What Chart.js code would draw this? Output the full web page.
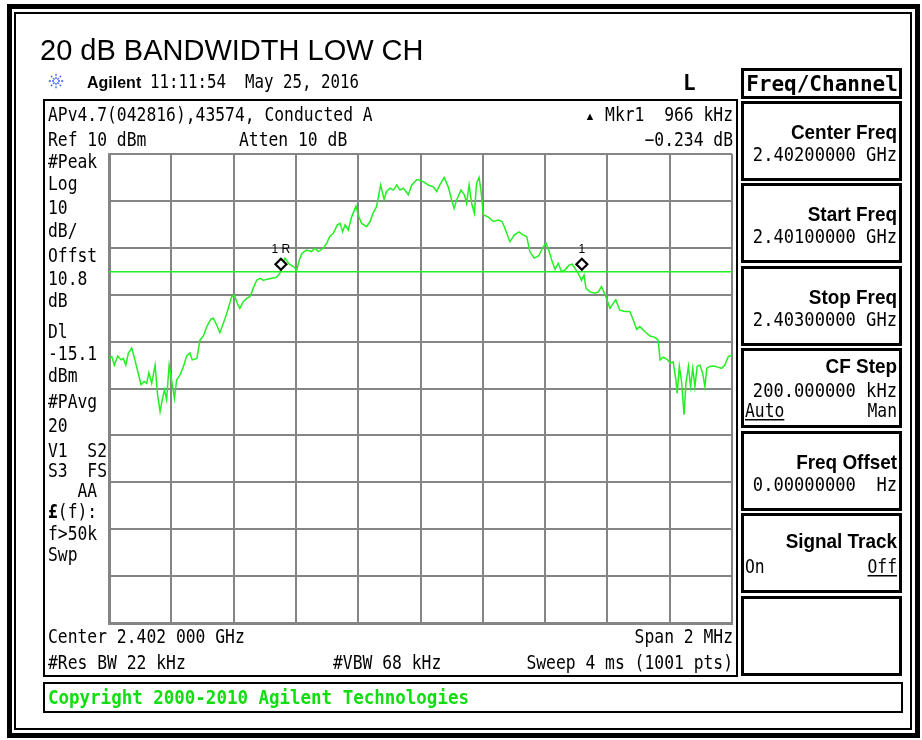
<!DOCTYPE html>
<html>
<head>
<meta charset="utf-8">
<script src="https://cdn.jsdelivr.net/npm/chart.js@4"></script>
<style>
  html, body { margin: 0; padding: 0; background: #fff; }
  #wrap { width: 922px; height: 740px; }
</style>
</head>
<body>
<div id="wrap"><canvas id="sa" width="922" height="740"></canvas></div>
<script>
// ── trace data: offset from start freq 2.401 GHz (kHz) / level (dBm) ──
const freqOffsetKHz = [0,9,17,28,39,46,54,62,73,83,94,103,113,121,128,137,148,156,164,171,
  178,185,193,201,210,217,228,239,249,260,267,282,292,303,314,327,335,346,356,367,
  378,394,402,413,420,431,442,453,463,474,485,495,522,538,549,554,565,579,592,603,
  611,619,634,650,661,672,688,699,709,720,733,742,750,758,768,779,793,800,811,827,
  838,848,859,865,872,883,891,902,913,924,934,945,961,972,988,993,1009,1025,1041,1052,
  1062,1076,1089,1100,1108,1116,1130,1141,1148,1156,1164,1173,1180,1188,1194,1202,1217,1234,1250,1262,
  1273,1287,1301,1316,1330,1341,1351,1365,1380,1391,1403,1413,1423,1432,1442,1453,1464,1477,1487,1506,
  1517,1525,1531,1544,1560,1571,1581,1595,1608,1619,1627,1640,1656,1672,1683,1694,1704,1721,1737,1753,
  1763,1769,1779,1792,1801,1811,1820,1824,1831,1838,1846,1852,1860,1867,1874,1881,1888,1897,1906,1913,
  1919,1929,1942,1956,1967,1977,1988,2000];
const levelDbm = [-33.6,-33.2,-35.0,-33.1,-33.9,-33.6,-35.0,-32.5,-31.4,-33.9,
  -36.8,-39.2,-38.5,-38.9,-36.6,-38.9,-35.0,-41.4,-44.9,-42.4,
  -40.3,-42.4,-35.0,-38.2,-42.1,-38.2,-37.1,-35.3,-33.1,-32.4,
  -33.9,-33.6,-29.7,-28.8,-26.8,-25.2,-25.0,-26.5,-28.1,-26.1,
  -24.0,-20.4,-20.1,-22.0,-22.9,-21.5,-20.8,-20.4,-18.6,-16.9,
  -16.5,-16.9,-16.5,-16.3,-15.4,-13.7,-12.2,-13.5,-14.0,-14.7,
  -12.6,-11.2,-10.5,-10.8,-10.1,-10.8,-10.1,-9.0,-7.6,-6.9,
  -5.1,-4.8,-6.6,-5.1,-6.2,-3.4,-1.1,-3.0,-4.8,-5.5,
  -4.4,-2.6,-1.2,0.9,3.4,0.3,2.0,2.7,2.3,3.4,
  2.3,2.7,1.3,3.4,4.5,4.5,4.1,3.4,3.0,2.0,
  3.4,5.0,3.0,0.2,-1.6,0.2,2.3,1.3,-0.5,3.4,
  -0.5,-2.6,3.8,5.0,2.3,-3.0,-3.4,-4.4,-4.1,-4.4,
  -6.2,-8.7,-7.3,-6.6,-7.3,-7.6,-10.8,-12.2,-11.7,-10.1,
  -9.0,-10.8,-13.0,-14.6,-13.3,-15.1,-14.7,-13.7,-13.5,-15.4,
  -16.9,-15.8,-18.6,-19.4,-19.7,-19.4,-18.3,-20.4,-22.9,-21.8,
  -21.1,-23.3,-23.6,-23.6,-25.4,-27.4,-26.8,-27.9,-28.8,-29.1,
  -29.7,-33.9,-33.3,-33.8,-34.6,-34.3,-38.2,-41.0,-35.3,-38.5,
  -45.6,-38.9,-35.3,-39.6,-35.7,-39.6,-35.3,-35.0,-36.8,-39.6,
  -35.7,-35.3,-35.2,-35.5,-35.7,-35.0,-33.2,-32.9];

const spanKHz = [0, 2000];
const refLevel = 10, dbPerDiv = 10, divisions = 10;
const displayLineDbm = -15.1;

const markerKHz = [552, 1518];
const markerDbm = [-13.5, -13.5];
const markerLabels = ['1 R', '1'];

const leftLabels = [
  ['#Peak', 168], ['Log', 190], ['10', 214], ['dB/', 237], ['Offst', 262], ['10.8', 285],
  ['dB', 307], ['Dl', 338], ['-15.1', 360], ['dBm', 382], ['#PAvg', 408], ['20', 432],
  ['V1  S2', 457], ['S3  FS', 477], ['   AA', 497], ['f>50k', 540], ['Swp', 561]
];

const softkeys = [
  { top: 102, title: 'Center Freq', value: '2.40200000 GHz' },
  { top: 184, title: 'Start Freq', value: '2.40100000 GHz' },
  { top: 267, title: 'Stop Freq', value: '2.40300000 GHz' },
  { top: 349, title: 'CF Step', value: '200.000000 kHz', left: 'Auto', right: 'Man', under: 'left' },
  { top: 432, title: 'Freq Offset', value: '0.00000000  Hz' },
  { top: 514, title: 'Signal Track', left: 'On', right: 'Off', under: 'right' },
  { top: 597 }
];

const MONO = "'DejaVu Sans Mono', monospace";
const SANS = "'Liberation Sans', Arial, sans-serif";
const GREEN = '#22f022';

// draw text with optional horizontal squeeze (instrument font is narrow)
function txt(ctx, s, x, y, font, align = 'left', sx = 0.86, color = '#000') {
  ctx.save();
  ctx.font = font;
  ctx.fillStyle = color;
  ctx.textAlign = align;
  ctx.textBaseline = 'alphabetic';
  ctx.translate(x, y);
  ctx.scale(sx, 1);
  ctx.fillText(s, 0, 0);
  const w = ctx.measureText(s).width * sx;
  ctx.restore();
  return w;
}

function underline(ctx, x0, x1, y) {
  ctx.fillStyle = '#000';
  ctx.fillRect(x0, y, x1 - x0, 1.5);
}

const screenPlugin = {
  id: 'screen',
  beforeDraw(chart) {
    const ctx = chart.ctx;
    ctx.save();
    ctx.fillStyle = '#fff';
    ctx.fillRect(0, 0, chart.width, chart.height);
    ctx.strokeStyle = '#000';
    // outer double frame
    ctx.lineWidth = 5;
    ctx.strokeRect(9.5, 6.5, 908, 729);
    ctx.lineWidth = 2;
    ctx.strokeRect(15, 13, 896, 716);
    // graph box
    ctx.lineWidth = 2;
    ctx.strokeRect(44, 100, 693, 576);
    // copyright box
    ctx.strokeRect(44, 683, 858, 29);
    // softkeys
    ctx.lineWidth = 3;
    ctx.strokeRect(742.5, 69.5, 158, 28);
    softkeys.forEach(k => ctx.strokeRect(742.5, k.top + 0.5, 158, 77));
    ctx.restore();
  },
  afterDraw(chart) {
    const ctx = chart.ctx;
    const m20 = '19px ' + MONO;

    // title
    txt(ctx, '20 dB BANDWIDTH LOW CH', 40, 60, '29px ' + SANS, 'left', 1);

    // Agilent burst logo
    ctx.save();
    ctx.strokeStyle = '#3a5cff';
    ctx.lineWidth = 1.3;
    ctx.setLineDash([2, 1.2]);
    for (let i = 0; i < 8; i++) {
      const a = i * Math.PI / 4;
      ctx.beginPath();
      ctx.moveTo(56 + Math.cos(a) * 2, 81 + Math.sin(a) * 2);
      ctx.lineTo(56 + Math.cos(a) * 8, 81 + Math.sin(a) * 8);
      ctx.stroke();
    }
    ctx.restore();
    txt(ctx, 'Agilent', 87, 88, 'bold 16px ' + SANS, 'left', 1);
    txt(ctx, '11:11:54  May 25, 2016', 150, 88, m20, 'left', 0.83);
    txt(ctx, 'L', 683, 90, 'bold 21px ' + MONO, 'left', 1);

    // header rows
    txt(ctx, 'APv4.7(042816),43574, Conducted A', 48, 121, m20);
    txt(ctx, 'Ref 10 dBm', 48, 146, m20);
    txt(ctx, 'Atten 10 dB', 239, 146, m20);
    txt(ctx, 'Mkr1  966 kHz', 733, 121, m20, 'right');
    txt(ctx, '\u25B2', 590, 120, '11px ' + SANS, 'center', 1);
    txt(ctx, '\u22120.234 dB', 733, 146, m20, 'right');

    // left annotation column
    leftLabels.forEach(([s, y]) => txt(ctx, s, 48, y, m20));
    const w = txt(ctx, '\u00A3', 48, 518, 'bold 19px ' + MONO, 'left', 0.86);
    txt(ctx, '(f):', 48 + w, 518, m20);

    // footer rows
    txt(ctx, 'Center 2.402 000 GHz', 48, 643, m20);
    txt(ctx, 'Span 2 MHz', 733, 643, m20, 'right');
    txt(ctx, '#Res BW 22 kHz', 48, 669, m20);
    txt(ctx, '#VBW 68 kHz', 333, 669, m20);
    txt(ctx, 'Sweep 4 ms (1001 pts)', 733, 669, m20, 'right');
    txt(ctx, 'Copyright 2000-2010 Agilent Technologies', 48, 704, 'bold 19px ' + MONO, 'left', 0.92, '#11dd11');

    // softkey panel
    txt(ctx, 'Freq/Channel', 822, 91, 'bold 21px ' + MONO, 'center', 1);
    softkeys.forEach(k => {
      if (!k.title) return;
      const three = !!(k.left && k.value);
      const tY = k.top + (three ? 24 : (k.value ? 37 : 34));
      txt(ctx, k.title, 897, tY, 'bold 21px ' + SANS, 'right', 0.9);
      if (k.value) txt(ctx, k.value, 897, tY + (three ? 24 : 22), m20, 'right', 0.9);
      if (k.left) {
        const y = three ? k.top + 68 : k.top + 59;
        const lw = txt(ctx, k.left, 745, y, m20, 'left', 0.86);
        const rw = txt(ctx, k.right, 897, y, m20, 'right', 0.86);
        if (k.under === 'left') underline(ctx, 745, 745 + lw, y + 2);
        else underline(ctx, 897 - rw, 897, y + 2);
      }
    });

    // marker labels above the diamonds
    const xs = chart.scales.x, ys = chart.scales.y;
    markerKHz.forEach((f, i) => {
      txt(ctx, markerLabels[i], xs.getPixelForValue(f), ys.getPixelForValue(markerDbm[i]) - 11,
        '12px ' + SANS, 'center', 1, '#000');
    });
  }
};

const gridStyle = { color: '#858585', lineWidth: 2, drawTicks: false };

new Chart(document.getElementById('sa'), {
  type: 'line',
  data: {
    datasets: [
      {
        label: 'markers',
        data: markerKHz.map((f, i) => ({ x: f, y: markerDbm[i] })),
        showLine: false,
        pointStyle: 'rectRot',
        pointRadius: 5.5,
        pointBorderWidth: 2.2,
        pointBorderColor: '#000',
        pointBackgroundColor: '#fff'
      },
      {
        label: 'trace',
        data: freqOffsetKHz.map((f, i) => ({ x: f, y: levelDbm[i] })),
        borderColor: GREEN,
        borderWidth: 1.5,
        pointRadius: 0,
        tension: 0
      },
      {
        label: 'display line',
        data: spanKHz.map(f => ({ x: f, y: displayLineDbm })),
        borderColor: GREEN,
        borderWidth: 1.6,
        pointRadius: 0
      }
    ]
  },
  options: {
    responsive: false,
    animation: false,
    devicePixelRatio: 1,
    layout: { padding: { left: 109, right: 190, top: 154, bottom: 117 } },
    plugins: { legend: { display: false }, tooltip: { enabled: false } },
    scales: {
      x: {
        type: 'linear', min: spanKHz[0], max: spanKHz[1],
        grid: gridStyle, border: { color: '#858585', width: 3 },
        ticks: { display: false, stepSize: (spanKHz[1] - spanKHz[0]) / divisions }
      },
      y: {
        min: refLevel - dbPerDiv * divisions, max: refLevel,
        grid: gridStyle, border: { color: '#858585', width: 3 },
        ticks: { display: false, stepSize: dbPerDiv }
      }
    }
  },
  plugins: [screenPlugin]
});
</script>
</body>
</html>
